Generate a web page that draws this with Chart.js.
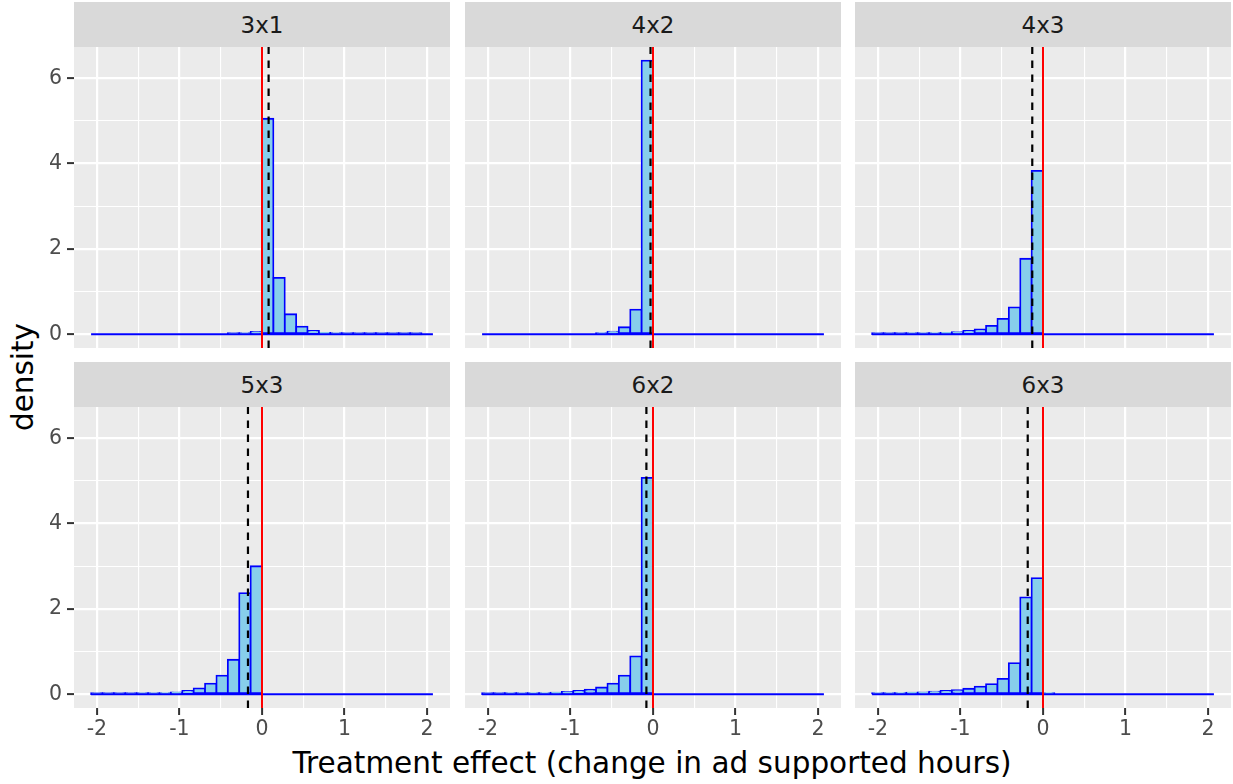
<!DOCTYPE html>
<html>
<head>
<meta charset="utf-8">
<script src="https://cdn.jsdelivr.net/npm/chart.js@4/dist/chart.umd.min.js"></script>
<style>
  body { margin: 0; background: #fff; width: 1233px; height: 784px; position: relative; overflow: hidden; font-family: "DejaVu Sans", sans-serif; }
  .strip { position: absolute; background: #D9D9D9; color: #1A1A1A; font-size: 23px; display: flex; align-items: center; justify-content: center; }
  canvas { position: absolute; }
  .xtitle { position: absolute; left: 74px; width: 1156px; top: 748px; font-size: 29.5px; line-height: 30px; text-align: center; color: #000; }
  .ytitle { position: absolute; left: -77px; top: 362px; width: 200px; height: 30px; font-size: 29.5px; line-height: 30px; text-align: center; color: #000; transform: rotate(-90deg); }
</style>
</head>
<body>
<div class="xtitle">Treatment effect (change in ad supported hours)</div>
<div class="ytitle">density</div>
<script>
// facets and histogram bins (30 bins, shared breaks)
const facetLabels = ['3x1', '4x2', '4x3', '5x3', '6x2', '6x3'];
const binStart = -2.07;
const binWidth = 0.138;

const density3x1 = [0, 0, 0, 0, 0, 0, 0, 0, 0, 0, 0, 0, 0.003, 0.02, 0.055,
                    5.05, 1.32, 0.47, 0.18, 0.08, 0.035, 0.018, 0.01, 0.006, 0.004, 0.003, 0.002, 0.001, 0.001, 0];
const density4x2 = [0, 0, 0, 0, 0, 0, 0, 0, 0, 0, 0.016, 0.063, 0.165, 0.58, 6.41,
                    0, 0, 0, 0, 0, 0, 0, 0, 0, 0, 0, 0, 0, 0, 0];
const density4x3 = [0.005, 0.008, 0.01, 0.015, 0.02, 0.025, 0.035, 0.05, 0.08, 0.115, 0.196, 0.36, 0.63, 1.77, 3.83,
                    0, 0, 0, 0, 0, 0, 0, 0, 0, 0, 0, 0, 0, 0, 0];
const density5x3 = [0.003, 0.005, 0.008, 0.01, 0.015, 0.02, 0.03, 0.047, 0.078, 0.14, 0.25, 0.44, 0.81, 2.37, 3.0,
                    0, 0, 0, 0, 0, 0, 0, 0, 0, 0, 0, 0, 0, 0, 0];
const density6x2 = [0.008, 0.01, 0.015, 0.02, 0.025, 0.03, 0.04, 0.055, 0.078, 0.11, 0.16, 0.25, 0.44, 0.89, 5.07,
                    0, 0, 0, 0, 0, 0, 0, 0, 0, 0, 0, 0, 0, 0, 0];
const density6x3 = [0.016, 0.023, 0.03, 0.04, 0.047, 0.062, 0.078, 0.1, 0.13, 0.18, 0.24, 0.36, 0.73, 2.27, 2.72,
                    0.03, 0, 0, 0, 0, 0, 0, 0, 0, 0, 0, 0, 0, 0, 0];
const densities = [density3x1, density4x2, density4x3, density5x3, density6x2, density6x3];

// mean estimated effect (dashed) and the true effect (red)
const meanEffect = [0.08, -0.03, -0.13, -0.17, -0.08, -0.185];
const trueEffect = 0;

const xMajor = [-2, -1, 0, 1, 2];
const xMinor = [-1.5, -0.5, 0.5, 1.5];
const yMajor = [0, 2, 4, 6];
const yMinor = [1, 3, 5];

// scale limits like ggplot (5% expansion)
const binEnd = binStart + binWidth * densities[0].length;
const xPad = (binEnd - binStart) * 0.05;
const xLo = binStart - xPad, xHi = binEnd + xPad;
const topDensity = Math.max.apply(null, densities.map(function (d) { return Math.max.apply(null, d); }));
const yLo = -topDensity * 0.05, yHi = topDensity * 1.05;

// page layout
const colLeft = [74, 465, 855];
const stripTop = [2, 362];
const stripH = 45, panelW = 376, panelH = 301, xAxisH = 46;

Chart.defaults.font.family = 'DejaVu Sans';
Chart.defaults.color = '#4D4D4D';

const panelBg = {
    id: 'panelBg',
    beforeDraw: function (chart) {
        const a = chart.chartArea;
        const c = chart.ctx;
        c.save();
        c.fillStyle = '#EBEBEB';
        c.fillRect(a.left, a.top, a.right - a.left, a.bottom - a.top);
        c.restore();
    }
};

function gridWidth(major) {
    return function (c) { return c.tick && major.includes(c.tick.value) ? 2.2 : 1.1; };
}
function tickCol(major) {
    return function (c) { return c.tick && major.includes(c.tick.value) ? '#333333' : 'rgba(0,0,0,0)'; };
}

facetLabels.forEach(function (label, i) {
    const col = i % 3, row = Math.floor(i / 3);
    const showY = col === 0, showX = row === 1;

    const strip = document.createElement('div');
    strip.className = 'strip';
    strip.textContent = label;
    strip.style.left = colLeft[col] + 'px';
    strip.style.top = stripTop[row] + 'px';
    strip.style.width = panelW + 'px';
    strip.style.height = stripH + 'px';
    document.body.appendChild(strip);

    const canvas = document.createElement('canvas');
    const left = showY ? 0 : colLeft[col];
    canvas.width = showY ? colLeft[0] + panelW : panelW;
    canvas.height = showX ? panelH + xAxisH : panelH;
    canvas.style.left = left + 'px';
    canvas.style.top = (stripTop[row] + stripH) + 'px';
    document.body.appendChild(canvas);

    const bars = densities[i].map(function (d, k) {
        return { x: binStart + (k + 0.5) * binWidth, y: d };
    });

    new Chart(canvas, {
        type: 'bar',
        data: {
            datasets: [
                {
                    type: 'line', order: 0,
                    data: [{ x: meanEffect[i], y: yLo }, { x: meanEffect[i], y: yHi }],
                    borderColor: '#000000', borderWidth: 2.2, borderDash: [7.5, 6.5], pointRadius: 0
                },
                {
                    type: 'line', order: 1,
                    data: [{ x: trueEffect, y: yLo }, { x: trueEffect, y: yHi }],
                    borderColor: '#FF0000', borderWidth: 2, pointRadius: 0
                },
                {
                    type: 'line', order: 2,
                    data: [{ x: binStart, y: 0 }, { x: binEnd, y: 0 }],
                    borderColor: '#0000FF', borderWidth: 2, pointRadius: 0
                },
                {
                    type: 'bar', order: 3,
                    data: bars,
                    backgroundColor: '#87CEEB', borderColor: '#0000FF', borderWidth: 1.8,
                    inflateAmount: 0.9,
                    borderSkipped: false, barPercentage: 1, categoryPercentage: 1
                }
            ]
        },
        options: {
            responsive: false,
            animation: false,
            layout: { padding: 0 },
            plugins: { legend: { display: false }, tooltip: { enabled: false } },
            scales: {
                x: {
                    type: 'linear', min: xLo, max: xHi, offset: false,
                    afterBuildTicks: function (s) {
                        s.ticks = xMajor.concat(xMinor).sort(function (a, b) { return a - b; })
                            .map(function (v) { return { value: v }; });
                    },
                    afterFit: function (s) {
                        s.height = showX ? xAxisH : 0;
                        s.paddingLeft = 0; s.paddingRight = 0;
                    },
                    border: { display: false },
                    grid: {
                        color: '#FFFFFF', lineWidth: gridWidth(xMajor), offset: false,
                        drawTicks: showX, tickLength: 7, tickWidth: 2, tickColor: tickCol(xMajor)
                    },
                    ticks: {
                        display: showX, autoSkip: false, maxRotation: 0, padding: 2,
                        font: { size: 20.5 }, color: '#4D4D4D',
                        callback: function (v) { return xMajor.includes(v) ? String(v) : ''; }
                    }
                },
                y: {
                    type: 'linear', min: yLo, max: yHi,
                    afterBuildTicks: function (s) {
                        s.ticks = yMajor.concat(yMinor).sort(function (a, b) { return a - b; })
                            .map(function (v) { return { value: v }; });
                    },
                    afterFit: function (s) {
                        s.width = showY ? colLeft[0] : 0;
                        s.paddingTop = 0; s.paddingBottom = 0;
                    },
                    border: { display: false },
                    grid: {
                        color: '#FFFFFF', lineWidth: gridWidth(yMajor),
                        drawTicks: showY, tickLength: 7, tickWidth: 2, tickColor: tickCol(yMajor)
                    },
                    ticks: {
                        display: showY, autoSkip: false, padding: 5,
                        font: { size: 20.5 }, color: '#4D4D4D',
                        callback: function (v) { return yMajor.includes(v) ? String(v) : ''; }
                    }
                }
            }
        },
        plugins: [panelBg]
    });
});
</script>
</body>
</html>
